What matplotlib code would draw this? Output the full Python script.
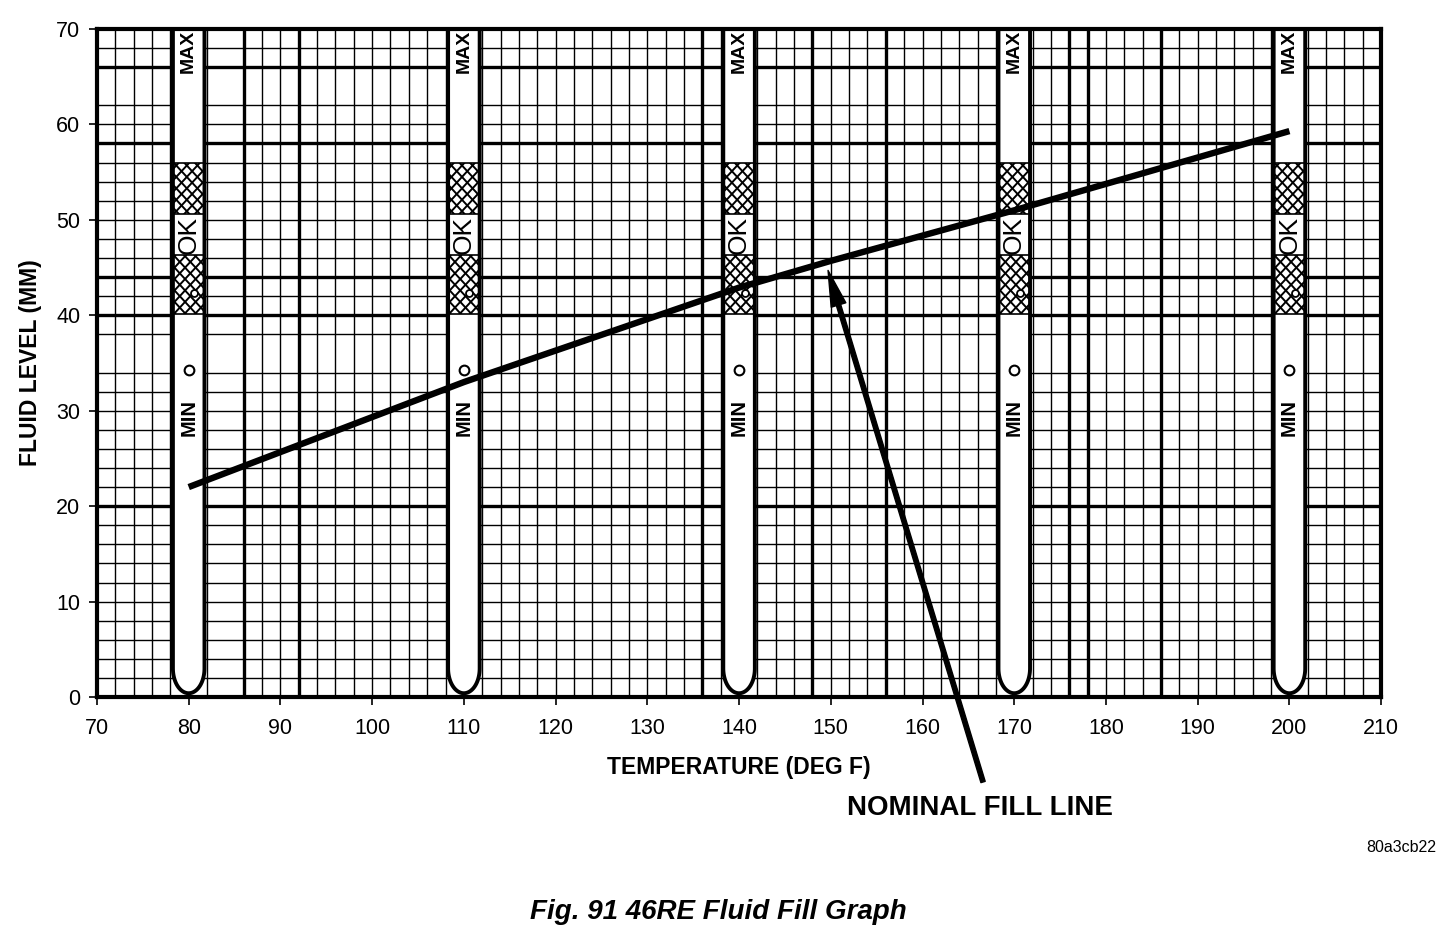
import matplotlib
matplotlib.use("Agg")
import matplotlib.pyplot as plt
import numpy as np
from matplotlib.patches import Rectangle, Polygon
from matplotlib.collections import LineCollection

plt.rcParams['font.family'] = ['Liberation Sans', 'DejaVu Sans']

# nominal fill line
temp_f = [80, 110, 140, 150, 170, 200]
level_mm = [22.0, 33.0, 42.9, 45.7, 51.0, 59.3]

# dipstick positions (deg F) and the zones printed on each stick (mm)
stick_temps = [80, 110, 140, 170, 200]
hatch_bands = [(50.6, 56.0), (40.1, 46.3)]
ok_level = 48.4
max_level = 67.6
min_level = 29.3
dot_level = 34.3
small_dot_level = 42.3

x_ticks = list(range(70, 211, 10))
y_ticks = list(range(0, 71, 10))

# grid lines that are drawn heavier (or left out) on the printed chart
heavy_x = [86, 92, 136, 148, 156, 176, 178, 186]
heavy_y = [20, 40, 44, 58, 66]
skip_x = [84]
skip_y = [36, 64]

fig = plt.figure(figsize=(14.56, 9.34), dpi=100)
ax = fig.add_axes([0.0666, 0.2537, 0.882, 0.7153])
ax.set_xlim(70, 210)
ax.set_ylim(0, 70)

# graph paper
for gx in range(72, 210, 2):
    if gx in skip_x:
        continue
    ax.axvline(gx, color='black', lw=2.4 if gx in heavy_x else 1.0, zorder=1)
for gy in range(2, 70, 2):
    if gy in skip_y:
        continue
    ax.axhline(gy, color='black', lw=2.4 if gy in heavy_y else 1.0, zorder=1)

half_w = 1.72
bottom_y = 3.0
ry = 2.6
aspect = 9.543 / 9.171
for c in stick_temps:
    t = np.linspace(np.pi, 2 * np.pi, 60)
    xs = np.concatenate([[c - half_w], c + half_w * np.cos(t), [c + half_w]])
    ys = np.concatenate([[70], bottom_y + ry * np.sin(t), [70]])
    ax.add_patch(Polygon(np.column_stack([xs, ys]), closed=True,
                         facecolor='white', edgecolor='none', zorder=2))
    ax.plot(xs, ys, color='black', lw=2.8, zorder=3, solid_capstyle='butt')

    for lo, hi in hatch_bands:
        rect = Rectangle((c - half_w, lo), 2 * half_w, hi - lo,
                         facecolor='white', edgecolor='black', lw=1.2, zorder=2.5)
        ax.add_patch(rect)
        step = 1.15
        segs = []
        for k in np.arange(-12, 12, step):
            segs.append([(c + k - 6, lo - 6 * aspect), (c + k + 6, lo + 6 * aspect)])
            segs.append([(c + k - 6, hi + 6 * aspect), (c + k + 6, hi - 6 * aspect)])
        lc = LineCollection(segs, colors='black', lw=1.4, zorder=2.6)
        ax.add_collection(lc)
        lc.set_clip_path(rect)

    ax.text(c, max_level, 'MAX', rotation=90, ha='center', va='center',
            fontsize=14, fontweight='bold', zorder=4)
    ax.text(c, min_level, 'MIN', rotation=90, ha='center', va='center',
            fontsize=14.5, fontweight='bold', zorder=4)
    ax.text(c, ok_level, 'OK', rotation=90, ha='center', va='center',
            fontsize=19, zorder=4)
    ax.plot([c], [dot_level], marker='o', ms=7, mfc='white', mec='black',
            mew=1.5, zorder=4)
    ax.plot([c + 0.6], [small_dot_level], marker='o', ms=5, mfc='white',
            mec='black', mew=1.3, zorder=4)

ax.plot(temp_f, level_mm, color='black', lw=4.6, zorder=5, solid_capstyle='butt')

for s in ax.spines.values():
    s.set_linewidth(3.0)
    s.set_zorder(6)

ax.set_xticks(x_ticks)
ax.set_yticks(y_ticks)
ax.tick_params(direction='out', length=6, width=1.2, labelsize=15.5, pad=9)
ax.tick_params(axis='y', pad=6)
ax.set_xlabel('TEMPERATURE (DEG F)', fontsize=16.5, fontweight='bold', labelpad=12)
ax.set_ylabel('FLUID LEVEL (MM)', fontsize=16.5, fontweight='bold', labelpad=10)

ax.annotate('', xy=(149.7, 44.7), xytext=(166.6, -8.9), annotation_clip=False,
            arrowprops=dict(facecolor='black', edgecolor='black', width=3.2,
                            headwidth=11, headlength=26, shrink=0), zorder=7)

fig.text(980 / 1456, 1 - 808 / 934, 'NOMINAL FILL LINE', fontsize=20,
         fontweight='bold', ha='center', va='center')
fig.text(1436 / 1456, 1 - 848 / 934, '80a3cb22', fontsize=11.5,
         ha='right', va='center')
fig.text(718 / 1456, 1 - 912 / 934, 'Fig. 91 46RE Fluid Fill Graph', fontsize=20,
         fontweight='bold', fontstyle='italic', ha='center', va='center')

fig.savefig('out.png', dpi=100, facecolor='white')
